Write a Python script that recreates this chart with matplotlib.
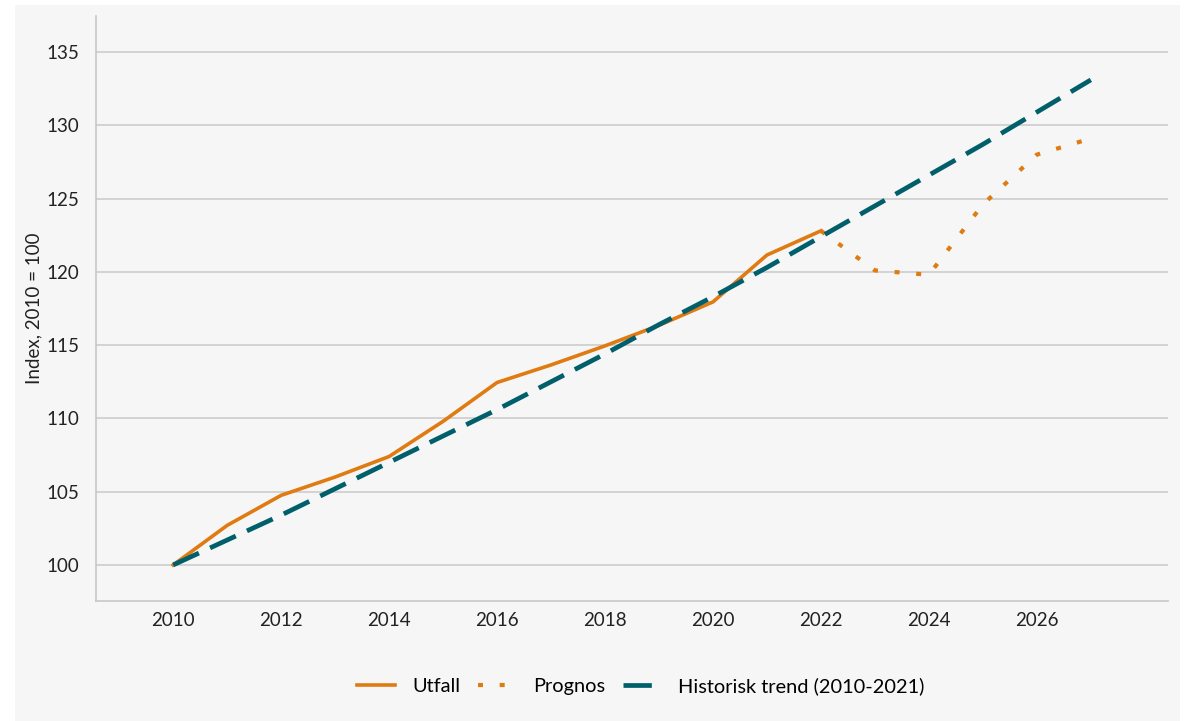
import numpy as np
import matplotlib
matplotlib.use("Agg")
import matplotlib.pyplot as plt
from matplotlib.patches import Rectangle

plt.rcParams['font.family'] = ['Lato', 'DejaVu Sans']

# data
years_utfall = [2010, 2011, 2012, 2013, 2014, 2015, 2016, 2017, 2018, 2019, 2020, 2021, 2022]
utfall = [100.0, 102.7, 104.75, 106.0, 107.4, 109.8, 112.45, 113.65, 114.95, 116.35, 117.95, 121.15, 122.8]

years_prognos = [2022, 2023, 2024, 2025, 2026, 2027]
prognos = [122.8, 120.1, 119.8, 124.6, 128.0, 129.1]

years_trend = [2010, 2011, 2012, 2013, 2014, 2015, 2016, 2017, 2018,
               2019, 2020, 2021, 2022, 2023, 2024, 2025, 2026, 2027]
trend = [100.0, 101.7, 103.4, 105.2, 107.0, 108.8, 110.6, 112.5, 114.4,
         116.4, 118.3, 120.3, 122.4, 124.5, 126.6, 128.7, 130.9, 133.1]

x_ticks = [2010, 2012, 2014, 2016, 2018, 2020, 2022, 2024, 2026]
y_ticks = [100, 105, 110, 115, 120, 125, 130, 135]

orange = '#e07b12'
teal = '#005f6b'
bg = '#f6f6f6'

fig = plt.figure(figsize=(11.89, 7.21), dpi=100)
fig.patch.set_facecolor('white')
# grey panel behind everything
fig.patches.append(Rectangle((15 / 1189, 0), (1180 - 15) / 1189, 1 - 5 / 721,
                             transform=fig.transFigure, facecolor=bg,
                             edgecolor='none', zorder=-10))

ax = fig.add_axes([96 / 1189, 1 - 601 / 721, (1168 - 96) / 1189, (601 - 16) / 721])
ax.set_facecolor(bg)

ax.plot(years_utfall, utfall, color=orange, lw=2.6, label='Utfall',
        solid_joinstyle='round', zorder=3)
ax.plot(years_prognos, prognos, color=orange, lw=3.0, linestyle=(0, (1.2, 4.0)),
        label='Prognos', zorder=3)
ax.plot(years_trend, trend, color=teal, lw=3.4, linestyle=(0, (6.0, 2.6)),
        label='Historisk trend (2010-2021)', zorder=4)

ax.set_xlim(2008.57, 2028.43)
ax.set_ylim(97.54, 137.46)
ax.set_xticks(x_ticks)
ax.set_yticks(y_ticks)
ax.tick_params(length=0, labelsize=13.5, colors='#222222')
ax.tick_params(axis='x', pad=8)
ax.tick_params(axis='y', pad=12)

ax.grid(axis='y', color='#cccccc', lw=1.2)
ax.set_axisbelow(True)
for s in ['top', 'right']:
    ax.spines[s].set_visible(False)
for s in ['left', 'bottom']:
    ax.spines[s].set_color('#c8c8c8')
    ax.spines[s].set_linewidth(1.2)

ax.set_ylabel('Index, 2010 = 100', fontsize=13.5, color='#222222', labelpad=3)

fig.legend(loc='center', bbox_to_anchor=(0.539, 0.048), ncol=3, frameon=False,
           fontsize=14.4, handlelength=1.9, handletextpad=0.85, columnspacing=0.9)

fig.savefig('out.png', dpi=100, facecolor=fig.get_facecolor())
